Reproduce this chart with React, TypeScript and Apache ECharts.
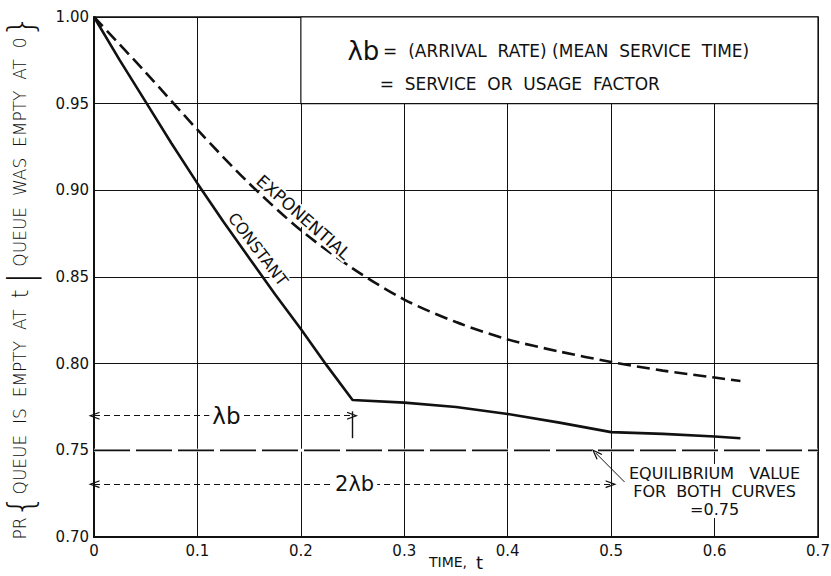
import React, { useEffect, useRef } from "react";
import * as echarts from "echarts";

// ---- data ----
const xTickValues = [0, 0.1, 0.2, 0.3, 0.4, 0.5, 0.6, 0.7];
const xTickLabels = ["0", "0.1", "0.2", "0.3", "0.4", "0.5", "0.6", "0.7"];
const yTickValues = [0.7, 0.75, 0.8, 0.85, 0.9, 0.95, 1.0];
const yTickLabels = ["0.70", "0.75", "0.80", "0.85", "0.90", "0.95", "1.00"];

const constantT = [0, 0.025, 0.05, 0.075, 0.1, 0.125, 0.15, 0.175, 0.2, 0.225, 0.25, 0.3, 0.35, 0.4, 0.45, 0.5, 0.55, 0.6, 0.625];
const constantP = [1.0, 0.975, 0.951, 0.927, 0.904, 0.882, 0.861, 0.84, 0.82, 0.799, 0.779, 0.7775, 0.775, 0.771, 0.766, 0.7605, 0.7595, 0.758, 0.757];

const exponentialT = [0, 0.05, 0.1, 0.15, 0.2, 0.25, 0.3, 0.35, 0.4, 0.45, 0.5, 0.55, 0.6, 0.625];
const exponentialP = [1.0, 0.968, 0.935, 0.904, 0.877, 0.855, 0.837, 0.824, 0.814, 0.807, 0.801, 0.796, 0.792, 0.79];

const equilibriumT = [0, 0.7];
const equilibriumP = [0.75, 0.75];

const lambdaB = 0.25;
const arrowLevel1 = 0.77;
const arrowLevel2 = 0.7305;

const INK = "#111";
const FONT = "DejaVu Sans";
const CHEVRON = "path://M0,10 L5,0 L10,10 L8.4,10 L5,3.2 L1.6,10 Z";

export default function App() {
  const ref = useRef<HTMLDivElement | null>(null);

  useEffect(() => {
    document.body.style.margin = "0";
    if (!ref.current) return;
    const chart = echarts.init(ref.current, undefined, { renderer: "svg" });

    const zip = (a: number[], b: number[]) => a.map((v, i) => [v, b[i]]);

    const option: any = {
      animation: false,
      backgroundColor: "#fff",
      textStyle: { fontFamily: FONT, color: INK },
      grid: {
        left: 94,
        right: 13,
        top: 17,
        bottom: 39,
        containLabel: false,
        outerBoundsMode: "none",
        show: true,
        borderColor: INK,
        borderWidth: 1.5,
        backgroundColor: "transparent",
      },
      xAxis: {
        type: "value",
        min: 0,
        max: 0.7,
        interval: 0.1,
        axisLine: { show: true, lineStyle: { color: INK, width: 2 } },
        axisTick: { show: false },
        splitLine: { show: true, lineStyle: { color: INK, width: 1 } },
        axisLabel: {
          color: INK,
          fontSize: 15,
          fontFamily: FONT,
          margin: 6,
          formatter: (v: number) => {
            const i = xTickValues.findIndex((t) => Math.abs(t - v) < 1e-6);
            return i >= 0 ? xTickLabels[i] : "";
          },
        },
        name: "{s|TIME,  }{t|t}",
        nameLocation: "middle",
        nameGap: 16,
        nameMoveOverlap: false,
        nameTextStyle: {
          rich: {
            s: { fontSize: 14, fontFamily: FONT, color: INK },
            t: { fontSize: 18, fontFamily: FONT, color: INK },
          },
        },
      },
      yAxis: {
        type: "value",
        min: 0.7,
        max: 1.0,
        interval: 0.05,
        axisLine: { show: true, lineStyle: { color: INK, width: 2 } },
        axisTick: { show: false },
        splitLine: { show: true, lineStyle: { color: INK, width: 1 } },
        axisLabel: {
          color: INK,
          fontSize: 15,
          fontFamily: FONT,
          margin: 5,
          formatter: (v: number) => {
            const i = yTickValues.findIndex((t) => Math.abs(t - v) < 1e-6);
            return i >= 0 ? yTickLabels[i] : "";
          },
        },
        name: "{s|PR}{{s|QUEUE  IS  EMPTY  AT  }{t|t}{s| }|{s| QUEUE  WAS  EMPTY  AT  0}}",
        nameLocation: "middle",
        nameRotate: 90,
        nameGap: 56,
        nameMoveOverlap: false,
        nameTextStyle: {
          fontSize: 36,
          fontWeight: "lighter",
          fontFamily: FONT,
          color: INK,
          rich: {
            s: { fontSize: 17, fontFamily: FONT, color: INK },
            t: { fontSize: 23, fontFamily: FONT, color: INK },
          },
        },
      },
      series: [
        {
          name: "CONSTANT",
          type: "line",
          data: zip(constantT, constantP),
          symbol: "none",
          lineStyle: { color: INK, width: 2.6 },
          z: 5,
        },
        {
          name: "EXPONENTIAL",
          type: "line",
          data: zip(exponentialT, exponentialP),
          symbol: "none",
          smooth: 0.3,
          lineStyle: { color: INK, width: 2.6, type: [13, 6] },
          z: 5,
        },
        {
          name: "EQUILIBRIUM_BG",
          type: "line",
          data: zip(equilibriumT, equilibriumP),
          symbol: "none",
          silent: true,
          lineStyle: { color: "#fff", width: 3 },
          z: 3,
        },
        {
          name: "EQUILIBRIUM",
          type: "line",
          data: zip(equilibriumT, equilibriumP),
          symbol: "none",
          lineStyle: { color: INK, width: 1.6, type: [36, 6] },
          z: 4,
          markArea: {
            silent: true,
            itemStyle: { color: "#fff", borderColor: INK, borderWidth: 1.2 },
            data: [[{ coord: [0.2, 1.0] }, { coord: [0.7, 0.95] }]],
          },
          markLine: {
            silent: true,
            animation: false,
            label: { show: false },
            symbolSize: [8, 11],
            lineStyle: { color: INK, width: 1.2, type: [6, 4] },
            data: [
              [
                { coord: [0, arrowLevel1], symbol: CHEVRON },
                { coord: [lambdaB, arrowLevel1], symbol: CHEVRON },
              ],
              [
                { coord: [0, arrowLevel2], symbol: CHEVRON },
                { coord: [2 * lambdaB, arrowLevel2], symbol: CHEVRON },
              ],
              [
                { coord: [lambdaB, 0.7725], symbol: "none", lineStyle: { type: "solid", width: 1.4 } },
                { coord: [lambdaB, 0.757], symbol: "none" },
              ],
              [
                {
                  coord: [0.513, 0.7317],
                  symbol: "none",
                  lineStyle: { type: "solid", width: 1, curveness: 0.45 },
                },
                { coord: [0.485, 0.7485], symbol: CHEVRON },
              ],
            ],
          },
        },
      ],
    };

    chart.setOption(option);

    const p = (x: number, y: number) => chart.convertToPixel({ gridIndex: 0 }, [x, y]) as number[];

    const txt = (pos: number[], style: any, extra: any = {}) => ({
      type: "text",
      x: pos[0],
      y: pos[1],
      z: 100,
      ...extra,
      style: { fontFamily: FONT, fill: INK, ...style },
    });

    const graphic = [
      txt(p(0.245, 0.9804), {
        text: "{l|λb} {s|=  (ARRIVAL  RATE) (MEAN  SERVICE  TIME)}",
        verticalAlign: "middle",
        align: "left",
        rich: {
          l: { fontSize: 26, fontFamily: FONT, fill: INK },
          s: { fontSize: 17, fontFamily: FONT, fill: INK },
        },
      }),
      txt(p(0.2763, 0.9613), {
        text: "=  SERVICE  OR  USAGE  FACTOR",
        fontSize: 17,
        verticalAlign: "middle",
        align: "left",
      }),
      txt(
        p(0.2025, 0.8845),
        {
          text: "EXPONENTIAL",
          fontSize: 17,
          align: "center",
          verticalAlign: "middle",
          backgroundColor: "#fff",
          padding: [0, 1],
        },
        { rotation: -0.72 }
      ),
      txt(
        p(0.1585, 0.866),
        {
          text: "CONSTANT",
          fontSize: 16,
          align: "center",
          verticalAlign: "middle",
          backgroundColor: "#fff",
          padding: [0, 1],
        },
        { rotation: -0.92 }
      ),
      txt(p(0.128, arrowLevel1), {
        text: "λb",
        fontSize: 23,
        align: "center",
        verticalAlign: "middle",
        backgroundColor: "#fff",
        padding: [0, 3],
      }),
      txt(p(0.252, arrowLevel2), {
        text: "2λb",
        fontSize: 21,
        align: "center",
        verticalAlign: "middle",
        backgroundColor: "#fff",
        padding: [0, 3],
      }),
      txt(p(0.6, 0.7265), {
        text: "EQUILIBRIUM   VALUE\nFOR  BOTH  CURVES\n=0.75",
        fontSize: 16,
        lineHeight: 18,
        align: "center",
        verticalAlign: "middle",
        backgroundColor: "#fff",
      }),
    ];

    chart.setOption({ graphic });

    return () => chart.dispose();
  }, []);

  return <div ref={ref} style={{ width: 831, height: 576 }} />;
}
